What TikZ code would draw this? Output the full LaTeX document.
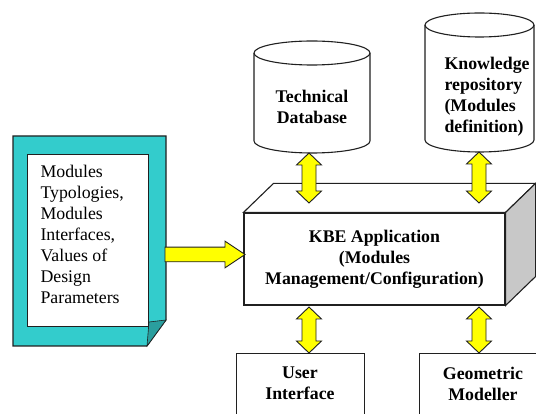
\documentclass[tikz,border=0pt]{standalone}
\usepackage{fontspec}
\setmainfont{Liberation Serif}
\usetikzlibrary{calc}
\definecolor{tealA}{HTML}{33CCCC}
\definecolor{tealB}{HTML}{2A9E9E}
\definecolor{sidegrey}{HTML}{C8C8C8}
\definecolor{arrowyellow}{HTML}{FFFF00}
\definecolor{edgecol}{HTML}{202020}
% vertical double arrow between two named points (#1 upper, #2 lower)
\newcommand\mydarrow[2]{%
  \filldraw[fatarrow] let \p1=(#1), \p2=(#2) in
    (\x1,\y1) -- ({\x1+12.5pt},{\y1-12pt}) -- ({\x1+7pt},{\y1-12pt})
    -- ({\x1+7pt},{\y2+12pt}) -- ({\x1+12.5pt},{\y2+12pt}) -- (\x1,\y2)
    -- ({\x1-12.5pt},{\y2+12pt}) -- ({\x1-7pt},{\y2+12pt})
    -- ({\x1-7pt},{\y1-12pt}) -- ({\x1-12.5pt},{\y1-12pt}) -- cycle;}
% horizontal single arrow from #1 to #2
\newcommand\myharrow[2]{%
  \filldraw[fatarrow] let \p1=(#1), \p2=(#2) in
    (\x1,{\y1+7.3pt}) -- ({\x2-20pt},{\y1+7.3pt}) -- ({\x2-20pt},{\y1+13.3pt})
    -- (\x2,\y1) -- ({\x2-20pt},{\y1-13.3pt}) -- ({\x2-20pt},{\y1-7.3pt})
    -- (\x1,{\y1-7.3pt}) -- cycle;}
\begin{document}
\begin{tikzpicture}[x=1pt,y=-1pt,line width=1.1pt,draw=edgecol,
  txt/.style={font=\fontsize{17.8}{21}\selectfont,inner sep=0pt},
  boldtxt/.style={font=\fontsize{17.8}{21}\selectfont\bfseries,inner sep=0pt,align=center},
  fatarrow/.style={fill=arrowyellow,draw=edgecol,line width=0.9pt},
  plainbox/.style={draw=edgecol,fill=white,line width=1.1pt}]
\useasboundingbox (0,0) rectangle (536,414);

% ---------- document (left) ----------
\filldraw[fill=tealA,draw=edgecol] (13,136) -- (166,136) -- (166,320) -- (147,346) -- (13,346) -- cycle;
\filldraw[fill=tealB,draw=edgecol,line width=0.6pt] (149,322) -- (166,320) -- (147,346) -- cycle;
\node[plainbox,minimum width=121pt,minimum height=172pt,anchor=north west,inner sep=0pt] (docpage) at (27,154) {};
\node[txt,anchor=west,align=left] (doctext) at (40,234.5)
  {Modules\\Typologies,\\Modules\\Interfaces,\\Values of\\Design\\Parameters};

% ---------- KBE application box ----------
\node[plainbox,boldtxt,minimum width=261pt,minimum height=92pt] (kbe) at (374.5,259)
  {KBE Application\\(Modules\\Management/Configuration)};
\filldraw[fill=white,draw=edgecol] (kbe.north west) -- ++(30,-29) -- ($(kbe.north east)+(30,-29)$) -- (kbe.north east) -- cycle;
\filldraw[fill=sidegrey,draw=edgecol] (kbe.north east) -- ++(30,-29) -- ($(kbe.south east)+(30,-29)$) -- (kbe.south east) -- cycle;

% ---------- Technical Database cylinder ----------
\filldraw[fill=white,draw=edgecol] (254,53) -- (254,141)
  arc[start angle=180,end angle=360,x radius=58pt,y radius=12pt] -- (370,53)
  arc[start angle=0,end angle=180,x radius=58pt,y radius=12pt] -- cycle;
\draw (254,53) arc[start angle=180,end angle=360,x radius=58pt,y radius=12pt];
\node[boldtxt] (tdb) at (312,107) {Technical\\Database};

% ---------- Knowledge repository cylinder ----------
\filldraw[fill=white,draw=edgecol] (425,25) -- (425,140)
  arc[start angle=180,end angle=360,x radius=54.5pt,y radius=12pt] -- (534,25)
  arc[start angle=0,end angle=180,x radius=54.5pt,y radius=12pt] -- cycle;
\draw (425,25) arc[start angle=180,end angle=360,x radius=54.5pt,y radius=12pt];
\node[boldtxt,anchor=west,align=left] (kr) at (444,97) {Knowledge\\repository\\(Modules\\definition)};

% ---------- bottom boxes ----------
\node[plainbox,minimum width=128pt,minimum height=70pt,anchor=north west,inner sep=0pt] (uibox) at (236,353) {};
\node[boldtxt] (ui) at (300,383.5) {User\\Interface};
\node[plainbox,minimum width=130pt,minimum height=70pt,anchor=north west,inner sep=0pt] (gmbox) at (419,353) {};
\node[boldtxt] (gm) at (483,383.5) {Geometric\\Modeller};

% ---------- connector end points ----------
\coordinate (tdbEnd) at (309,153);
\coordinate (kbeTopL) at (309,203);
\coordinate (krEnd) at (479,152);
\coordinate (kbeTopR) at (479,203);
\coordinate (kbeBotL) at (309,307);
\coordinate (uiEnd) at (309,353);
\coordinate (kbeBotR) at (479,307);
\coordinate (gmEnd) at (479,353);
\coordinate (docEnd) at (165,254.5);
\coordinate (kbeLeft) at (245,254.5);

% ---------- connectors ----------
\mydarrow{tdbEnd}{kbeTopL}
\mydarrow{krEnd}{kbeTopR}
\mydarrow{kbeBotL}{uiEnd}
\mydarrow{kbeBotR}{gmEnd}
\myharrow{docEnd}{kbeLeft}
\end{tikzpicture}
\end{document}
